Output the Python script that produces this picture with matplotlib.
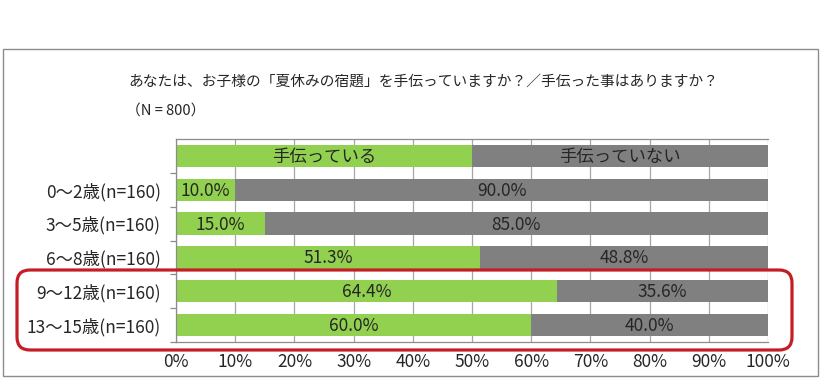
import matplotlib
matplotlib.use("Agg")
from matplotlib import pyplot as plt
from matplotlib.patches import FancyBboxPatch, Rectangle
from matplotlib.ticker import FixedLocator, PercentFormatter

plt.rcParams['font.family'] = ['Noto Sans CJK JP', 'DejaVu Sans']

# data
categories = ['0～2歳(n=160)', '3～5歳(n=160)', '6～8歳(n=160)', '9～12歳(n=160)', '13～15歳(n=160)']
helping = [10.0, 15.0, 51.3, 64.4, 60.0]
not_helping = [90.0, 85.0, 48.8, 35.6, 40.0]
legend_labels = ['手伝っている', '手伝っていない']
legend_values = [50, 50]
title = 'あなたは、お子様の「夏休みの宿題」を手伝っていますか？／手伝った事はありますか？'
subtitle = '（N = 800）'

green = '#92D050'
gray = '#808080'
txt = '#262626'
line = '#8c8c8c'

W, H = 821, 380
fig = plt.figure(figsize=(W / 100, H / 100), dpi=100)
ax = fig.add_axes([176 / W, 1 - 342 / H, (768 - 176) / W, (342 - 139) / H])

# first row acts as the legend bar
rows = list(range(len(categories) + 1))
left_vals = [legend_values[0]] + helping
right_vals = [legend_values[1]] + not_helping
h = 0.66

ax.barh(rows, left_vals, height=h, color=green, zorder=2)
ax.barh(rows, right_vals, left=left_vals, height=h, color=gray, zorder=2)

for i in rows:
    if i == 0:
        l1, l2 = legend_labels
    else:
        l1 = f'{helping[i - 1]:.1f}%'
        l2 = f'{not_helping[i - 1]:.1f}%'
    ax.text(left_vals[i] / 2, i + 0.03, l1, ha='center', va='center', fontsize=12.5, color=txt, zorder=3)
    ax.text(left_vals[i] + right_vals[i] / 2, i + 0.03, l2, ha='center', va='center', fontsize=12.5, color=txt, zorder=3)

ax.set_xlim(0, 100)
ax.set_ylim(len(rows) - 0.5, -0.5)
ax.xaxis.set_major_locator(FixedLocator(range(0, 101, 10)))
ax.xaxis.set_major_formatter(PercentFormatter(decimals=0))
ax.grid(axis='x', color='#a6a6a6', linewidth=0.9, zorder=1)
ax.set_axisbelow(True)

ax.set_yticks(rows[1:])
ax.set_yticklabels(categories)
ax.yaxis.set_minor_locator(FixedLocator([r + 0.5 for r in range(len(rows))]))
ax.tick_params(axis='y', which='major', length=0, pad=11, labelsize=12.5, labelcolor=txt)
ax.tick_params(axis='y', which='minor', length=4, color=line, width=0.9)
ax.tick_params(axis='x', length=0, pad=8, labelsize=12.5, labelcolor=txt)

for s in ['left', 'bottom', 'top']:
    ax.spines[s].set_color(line)
    ax.spines[s].set_linewidth(0.9)
ax.spines['right'].set_visible(False)

# titles
fig.text(128 / W, 1 - 82 / H, title, fontsize=10.6, color=txt, ha='left', va='center')
fig.text(126 / W, 1 - 112 / H, subtitle, fontsize=10.6, color=txt, ha='left', va='center')

# outer frame
fig.patches.append(Rectangle((3 / W, 1 - 376 / H), (818 - 3) / W, (376 - 49) / H,
                             transform=fig.transFigure, fill=False, edgecolor='#8c8c8c', linewidth=1))

# red highlight around the two oldest groups
fig.patches.append(FancyBboxPatch((17, H - 350), 792 - 17, 350 - 270,
                                  boxstyle='round,pad=0,rounding_size=13',
                                  transform=None, fill=False, edgecolor='#C41E24', linewidth=2.3))

fig.savefig('out.png', dpi=100)
